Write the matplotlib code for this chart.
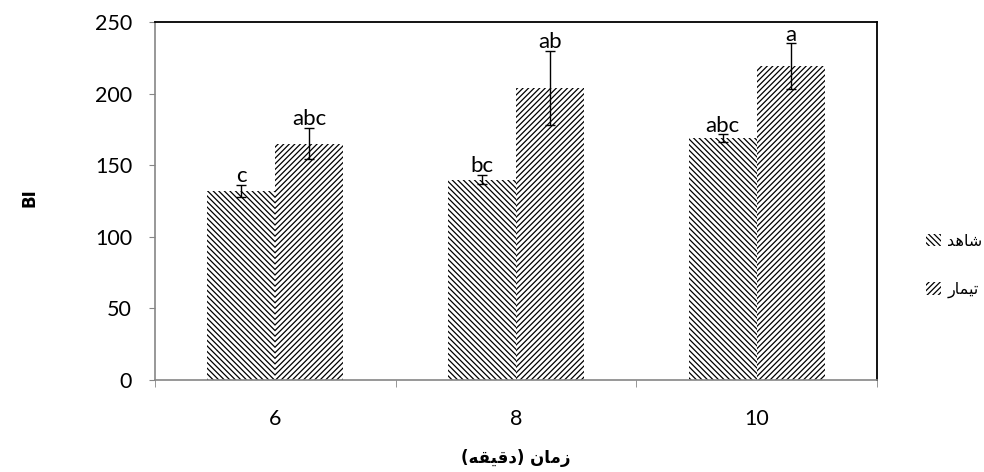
import numpy as np
import matplotlib.pyplot as plt
from matplotlib.ticker import FixedLocator

# data
categories = ['6', '8', '10']
shahed = [132, 140, 169]
shahed_err = [4, 3, 2.5]
teymar = [165, 204, 219]
teymar_err = [11, 26, 16]
shahed_letters = ['c', 'bc', 'abc']
teymar_letters = ['abc', 'ab', 'a']

# Persian text written in visual order with presentation forms
# (matplotlib does no Arabic shaping)
lbl_shahed = '\uFEAA\uFEEB\uFE8E\uFEB7'            # شاهد
lbl_teymar = '\uFEAD\uFE8E\uFEE4\uFEF4\uFE97'      # تیمار
xlabel_txt = '(\uFEEA\uFED8\uFEF4\uFED7\uFEA9) \uFEE5\uFE8E\uFEE3\uFEAF'  # زمان (دقیقه)

plt.rcParams['hatch.linewidth'] = 0.9
num_font = 'Lato'

fig = plt.figure(figsize=(9.84, 4.72), dpi=100)
ax = fig.add_axes([155/984, 92/472, 722/984, 358/472])

x = np.arange(len(categories))
w = 0.283
ax.bar(x - w/2, shahed, w, color='white', edgecolor='black', hatch='\\' * 6,
       linewidth=0, label=lbl_shahed)
ax.bar(x + w/2, teymar, w, color='white', edgecolor='black', hatch='/' * 6,
       linewidth=0, label=lbl_teymar)
ax.errorbar(x - w/2, shahed, yerr=shahed_err, fmt='none', ecolor='black',
            elinewidth=1, capsize=3.5, capthick=1)
ax.errorbar(x + w/2, teymar, yerr=teymar_err, fmt='none', ecolor='black',
            elinewidth=1, capsize=3.5, capthick=1)

for xi, v, e, t in zip(x - w/2, shahed, shahed_err, shahed_letters):
    ax.text(xi, v + e + 2, t, ha='center', va='baseline', fontsize=16, family=num_font)
for xi, v, e, t in zip(x + w/2, teymar, teymar_err, teymar_letters):
    ax.text(xi, v + e + 2, t, ha='center', va='baseline', fontsize=16, family=num_font)

ax.set_xlim(-0.5, 2.5)
ax.set_ylim(0, 250)
ax.set_yticks(np.arange(0, 251, 50))
ax.set_xticks(x)
ax.set_xticklabels(categories)
ax.xaxis.set_minor_locator(FixedLocator([-0.5, 0.5, 1.5, 2.5]))
ax.tick_params(axis='x', which='major', length=0, pad=21)
ax.tick_params(axis='x', which='minor', length=5, color='#868686', direction='out')
ax.tick_params(axis='y', length=4.5, color='#868686', direction='out', pad=12)
for lab in ax.get_xticklabels() + ax.get_yticklabels():
    lab.set_family(num_font)
    lab.set_fontsize(15.5)

for s in ['left', 'bottom']:
    ax.spines[s].set_color('#868686')
    ax.spines[s].set_linewidth(1.2)
for s in ['top', 'right']:
    ax.spines[s].set_color('black')
    ax.spines[s].set_linewidth(1.3)

fig.text(30/984, 1 - 198/472, 'BI', rotation=90, ha='center', va='center',
         fontsize=12, fontweight='bold')
fig.text(516/984, 1 - 458/472, xlabel_txt, ha='center', va='center',
         fontsize=12, fontweight='bold', family='DejaVu Sans')

leg = fig.legend(loc='center left', bbox_to_anchor=(920/984, 1 - 266/472),
                 frameon=False, fontsize=11.5, handlelength=0.9, handleheight=0.8,
                 handletextpad=0.4, labelspacing=2.1, borderaxespad=0)

fig.savefig('out.png', dpi=100)
